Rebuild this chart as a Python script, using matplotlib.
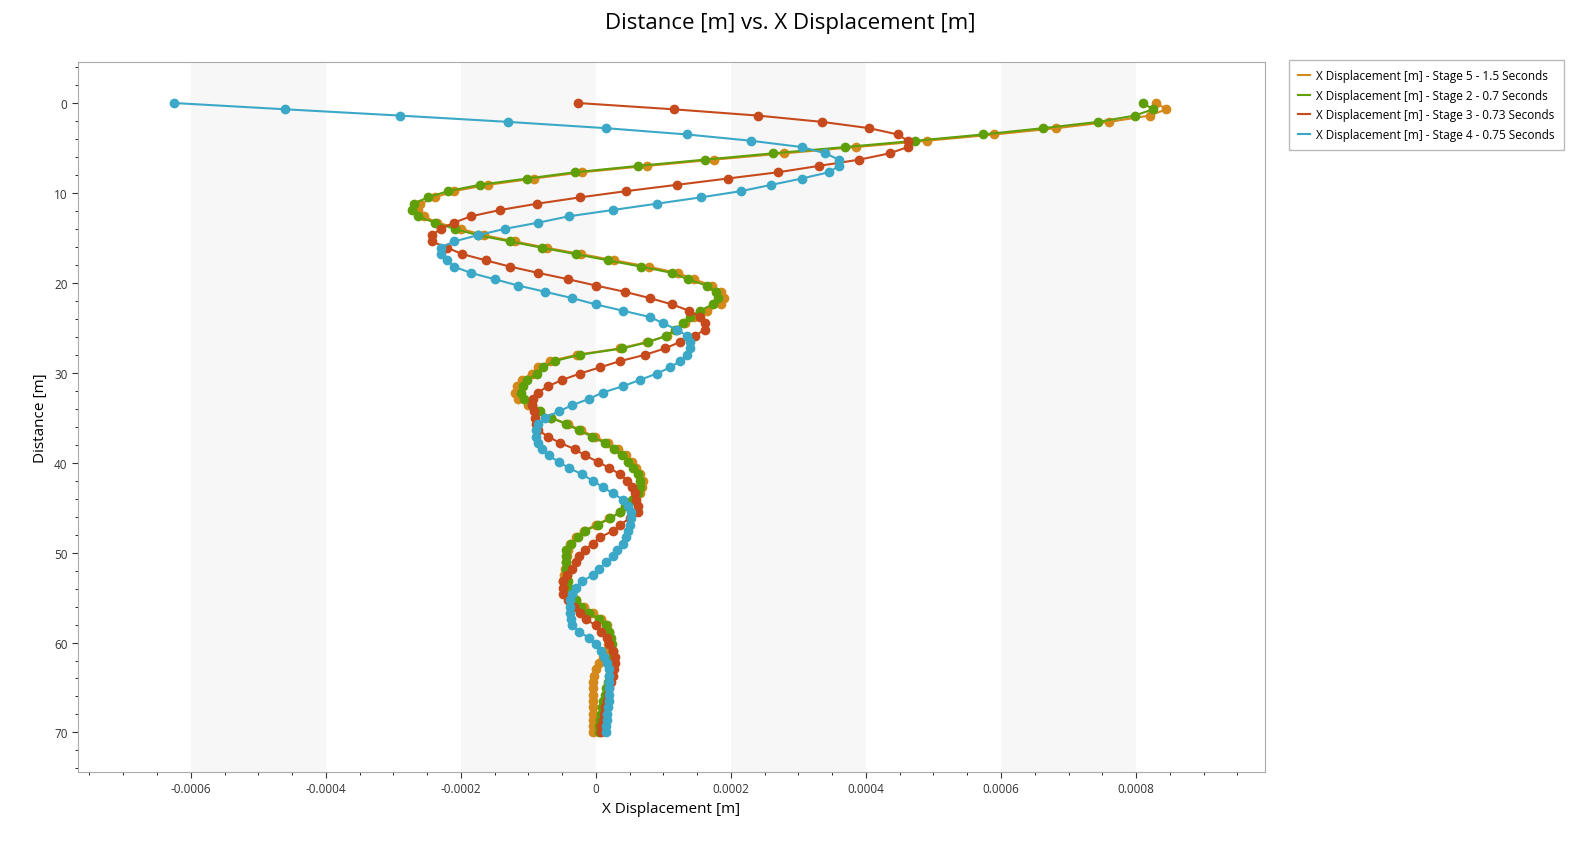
import numpy as np
import matplotlib
matplotlib.use("Agg")
import matplotlib.pyplot as plt
from matplotlib.ticker import MultipleLocator

depth = np.round(np.arange(101) * 0.7, 1)

stage5 = [8.3,8.45,8.2,7.6,6.82,5.9,4.9,3.85,2.78,1.75,
          0.75,-0.2,-0.92,-1.6,-2.1,-2.38,-2.6,-2.64,-2.55,-2.35,
          -2.0,-1.66,-1.2,-0.73,-0.22,0.27,0.78,1.21,1.45,1.72,
          1.86,1.9,1.86,1.65,1.45,1.32,1.2,1.05,0.75,0.35,
          -0.28,-0.68,-0.85,-0.95,-1.1,-1.17,-1.2,-1.15,-1.0,-0.85,
          -0.66,-0.42,-0.22,-0.02,0.18,0.33,0.45,0.53,0.6,0.66,
          0.7,0.69,0.65,0.55,0.45,0.36,0.2,0.0,-0.18,-0.3,
          -0.38,-0.42,-0.43,-0.44,-0.45,-0.47,-0.48,-0.45,-0.38,-0.3,
          -0.18,-0.05,0.08,0.16,0.2,0.2,0.18,0.15,0.1,0.05,
          0.0,-0.03,-0.05,-0.05,-0.05,-0.05,-0.05,-0.05,-0.05,-0.05,
          -0.05]
stage2 = [8.1,8.25,7.98,7.44,6.62,5.73,4.73,3.69,2.62,1.61,
          0.62,-0.31,-1.02,-1.72,-2.19,-2.49,-2.7,-2.73,-2.64,-2.39,
          -2.09,-1.75,-1.27,-0.8,-0.3,0.18,0.67,1.13,1.36,1.64,
          1.78,1.81,1.73,1.54,1.39,1.29,1.17,1.04,0.77,0.39,
          -0.24,-0.61,-0.79,-0.87,-1.02,-1.08,-1.11,-1.07,-0.95,-0.83,
          -0.67,-0.44,-0.25,-0.06,0.13,0.27,0.39,0.47,0.55,0.62,
          0.65,0.65,0.62,0.53,0.43,0.36,0.21,0.03,-0.16,-0.27,
          -0.37,-0.44,-0.44,-0.44,-0.44,-0.43,-0.42,-0.4,-0.35,-0.3,
          -0.22,-0.1,0.05,0.15,0.2,0.22,0.24,0.25,0.25,0.25,
          0.22,0.2,0.18,0.15,0.13,0.11,0.09,0.07,0.06,0.05,
          0.05]
stage3 = [-0.27,1.15,2.4,3.35,4.05,4.47,4.62,4.62,4.35,3.9,
          3.3,2.7,1.95,1.2,0.45,-0.24,-0.87,-1.42,-1.85,-2.1,
          -2.3,-2.43,-2.43,-2.2,-1.98,-1.63,-1.27,-0.85,-0.41,0.0,
          0.43,0.8,1.13,1.38,1.54,1.61,1.61,1.47,1.24,1.02,
          0.73,0.36,0.06,-0.24,-0.5,-0.71,-0.86,-0.93,-0.95,-0.92,
          -0.9,-0.88,-0.85,-0.71,-0.53,-0.31,-0.16,0.03,0.2,0.36,
          0.46,0.53,0.58,0.6,0.62,0.62,0.5,0.36,0.25,0.06,
          -0.05,-0.16,-0.25,-0.3,-0.36,-0.43,-0.48,-0.49,-0.48,-0.41,
          -0.32,-0.24,-0.15,0.0,0.08,0.16,0.2,0.25,0.28,0.28,
          0.27,0.25,0.22,0.2,0.18,0.16,0.14,0.12,0.1,0.08,
          0.08]
stage4 = [-6.25,-4.6,-2.9,-1.3,0.15,1.35,2.3,3.05,3.4,3.6,
          3.6,3.45,3.05,2.6,2.15,1.55,0.9,0.25,-0.4,-0.85,
          -1.35,-1.75,-2.1,-2.3,-2.3,-2.2,-2.1,-1.85,-1.5,-1.15,
          -0.75,-0.35,0.0,0.4,0.8,1.0,1.2,1.35,1.4,1.4,
          1.35,1.25,1.1,0.9,0.65,0.4,0.1,-0.1,-0.35,-0.55,
          -0.75,-0.85,-0.88,-0.88,-0.85,-0.8,-0.7,-0.55,-0.4,-0.2,
          -0.05,0.1,0.25,0.4,0.48,0.52,0.52,0.5,0.48,0.45,
          0.4,0.32,0.25,0.15,0.05,-0.05,-0.2,-0.3,-0.35,-0.38,
          -0.38,-0.38,-0.37,-0.35,-0.25,-0.1,0.0,0.07,0.12,0.17,
          0.2,0.2,0.2,0.2,0.2,0.2,0.18,0.17,0.16,0.15,
          0.15]

series = [
    ("X Displacement [m] - Stage 5 - 1.5 Seconds", stage5, "#D4891C"),
    ("X Displacement [m] - Stage 2 - 0.7 Seconds", stage2, "#5E9F0A"),
    ("X Displacement [m] - Stage 3 - 0.73 Seconds", stage3, "#C64A1C"),
    ("X Displacement [m] - Stage 4 - 0.75 Seconds", stage4, "#3AA8C6"),
]

plt.rcParams["font.family"] = "Open Sans"
fig = plt.figure(figsize=(15.8, 8.62), dpi=100)
ax = fig.add_axes([78/1580, 1-773/862, (1265-78)/1580, (773-63)/862])

for lo in [-0.0006, -0.0002, 0.0002, 0.0006]:
    ax.axvspan(lo, lo + 0.0002, color="#F7F7F7", zorder=0, lw=0)

for name, vals, col in series:
    ax.plot(np.array(vals) * 1e-4, depth, "-o", color=col, lw=1.5, ms=6, label=name, zorder=3)

ax.set_xlim(-0.000767, 0.000991)
ax.set_ylim(74.4, -4.56)
ax.xaxis.set_major_locator(MultipleLocator(0.0002))
ax.xaxis.set_minor_locator(MultipleLocator(0.00005))
ax.yaxis.set_major_locator(MultipleLocator(10))
ax.yaxis.set_minor_locator(MultipleLocator(2))
ax.set_xticklabels([f"{v:g}" if abs(v) > 1e-12 else "0" for v in ax.get_xticks()])
ax.tick_params(labelsize=8.5, colors="#333333", length=4)
ax.tick_params(which="minor", length=2)
for s in ax.spines.values():
    s.set_color("#AAAAAA")
ax.set_xlabel("X Displacement [m]", fontsize=11)
ax.set_ylabel("Distance [m]", fontsize=11)
fig.suptitle("Distance [m] vs. X Displacement [m]", fontsize=16, y=0.985)

leg = ax.legend(loc="upper left", bbox_to_anchor=(1283/1580, 1-55/862), bbox_transform=fig.transFigure,
                fontsize=8.5, frameon=True, fancybox=False, handlelength=1.0, handletextpad=0.5,
                borderpad=0.8, labelspacing=0.55)
for h in leg.legend_handles:
    h.set_marker("")
leg.get_frame().set_edgecolor("#AAAAAA")

fig.savefig("out.png", dpi=100)
